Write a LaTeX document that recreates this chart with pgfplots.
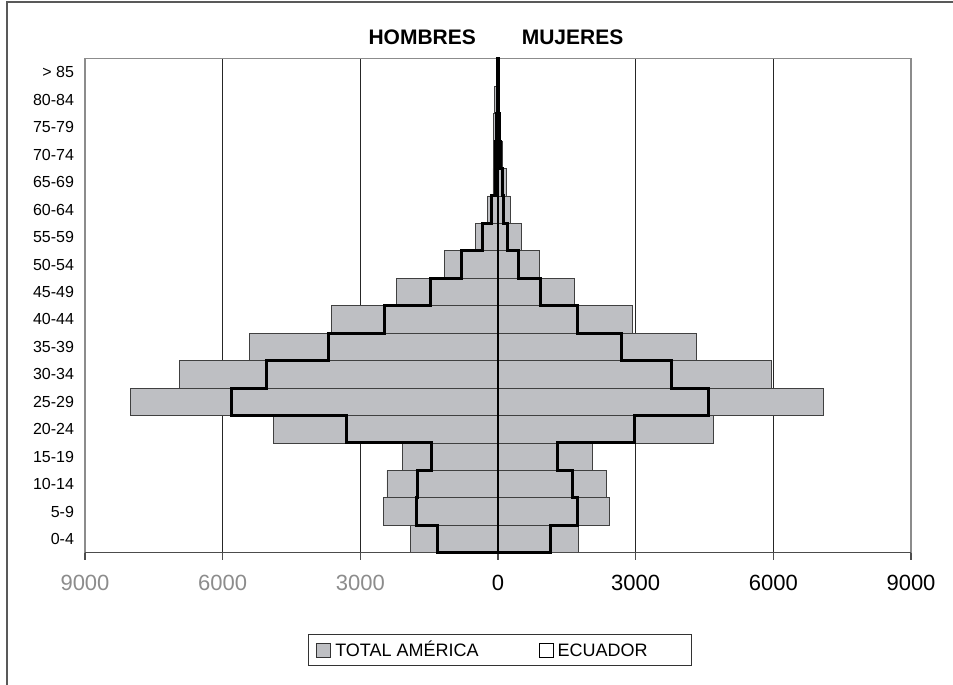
\documentclass[border=0pt]{standalone}
\usepackage{fontspec}
\setmainfont{Liberation Sans}
\usepackage{pgfplots}
\pgfplotsset{compat=1.18}
\usepackage{pgfplotstable}
\definecolor{barfill}{RGB}{190,191,195}
\definecolor{tickgray}{RGB}{140,140,140}
\definecolor{boxgray}{RGB}{140,140,140}

% idx: 0 = 0-4 ... 17 = > 85
\pgfplotstableread{
idx men women
0  -1910 1750
1  -2500 2430
2  -2420 2370
3  -2080 2060
4  -4900 4700
5  -8010 7100
6  -6950 5950
7  -5410 4320
8  -3620 2920
9  -2210 1660
10 -1160 900
11 -500  515
12 -225  265
13 -110  180
14 -100  95
15 -90   50
16 -70   25
17 -40   25
}\totaltable

\begin{document}
\begin{tikzpicture}
\path[use as bounding box] (0,0) rectangle (476.5pt,342.5pt);
\draw[black!65, line width=0.9pt] (3.5pt,0) -- (3.5pt,341.6pt) -- (476.5pt,341.6pt);
\begin{axis}[
  at={(42.5pt,66.15pt)}, anchor=south west,
  scale only axis, width=413pt, height=247pt,
  xmin=-9000, xmax=9000, ymin=-0.5, ymax=17.5,
  clip=false,
  xtick={-9000,-6000,-3000,0,3000,6000,9000},
  xticklabels={\textcolor{tickgray}{9000},\textcolor{tickgray}{6000},\textcolor{tickgray}{3000},0,3000,6000,9000},
  ytick={0,...,17},
  yticklabels={0-4,5-9,10-14,15-19,20-24,25-29,30-34,35-39,40-44,45-49,50-54,55-59,60-64,65-69,70-74,75-79,80-84,> 85},
  xmajorgrids, grid style={black!85, line width=0.4pt},
  axis line style={boxgray, line width=0.75pt},
  xtick pos=left, tick align=outside, major tick length=3.5pt,
  xtick style={black!70, line width=0.6pt},
  ytick style={draw=none},
  xticklabel style={font=\fontsize{11}{13}\selectfont, yshift=-4pt},
  yticklabel style={font=\fontsize{8}{9}\selectfont, xshift=1.5pt},
  title={HOMBRES\hspace{23pt}MUJERES},
  title style={at={(0.4975,1)}, anchor=base, inner sep=0pt, yshift=1pt, font=\bfseries\fontsize{10.5}{12}\selectfont},
  legend columns=2,
  legend style={at={(0.5024,-0.197)}, anchor=center, draw=black!80, line width=0.6pt,
    font=\fontsize{9}{11}\selectfont, inner xsep=4pt, inner ysep=2.5pt,
    nodes={text height=6.6pt, text depth=0pt},
    /tikz/every even column/.append style={column sep=28pt}},
  legend cell align=left,
]
\addplot[xbar, bar width=1, bar shift=0, fill=barfill, draw=black!75, line width=0.4pt,
  legend image code/.code={\draw[black!80, line width=0.5pt, fill=barfill] (0pt,-3.5pt) rectangle (7pt,3.5pt);}]
  table[x=men, y=idx]{\totaltable};
\addlegendentry{TOTAL AMÉRICA}
\addplot[xbar, bar width=1, bar shift=0, fill=barfill, draw=black!75, line width=0.4pt, forget plot]
  table[x=women, y=idx]{\totaltable};
\draw[black, line width=1pt] (axis cs:0,-0.5) -- (axis cs:0,17.5);
\draw[black!70, line width=0.75pt] (axis cs:-9000,-0.5) -- (axis cs:9000,-0.5);
\addplot[black, line width=1.5pt, line join=miter, mark=none,
  legend image code/.code={\draw[black, line width=0.5pt, fill=white] (0pt,-3.5pt) rectangle (7pt,3.5pt);}]
  coordinates {
  (-1310,-0.5) (-1310,0.5) (-1770,0.5) (-1770,1.5) (-1750,1.5) (-1750,2.5)
  (-1450,2.5) (-1450,3.5) (-3310,3.5) (-3310,4.5) (-5800,4.5) (-5800,5.5)
  (-5040,5.5) (-5040,6.5) (-3700,6.5) (-3700,7.5) (-2470,7.5) (-2470,8.5)
  (-1480,8.5) (-1480,9.5) (-800,9.5) (-800,10.5) (-330,10.5) (-330,11.5)
  (-140,11.5) (-140,12.5) (-60,12.5) (-60,13.5) (-50,13.5) (-50,14.5)
  (-40,14.5) (-40,15.5) (-20,15.5) (-20,16.5) (-10,16.5) (-10,17.5)
  (10,17.5) (10,16.5) (20,16.5) (20,15.5) (40,15.5) (40,14.5)
  (60,14.5) (60,13.5) (90,13.5) (90,12.5) (115,12.5) (115,11.5)
  (215,11.5) (215,10.5) (450,10.5) (450,9.5) (920,9.5) (920,8.5)
  (1730,8.5) (1730,7.5) (2690,7.5) (2690,6.5) (3790,6.5) (3790,5.5)
  (4590,5.5) (4590,4.5) (2980,4.5) (2980,3.5) (1290,3.5) (1290,2.5)
  (1620,2.5) (1620,1.5) (1730,1.5) (1730,0.5) (1140,0.5) (1140,-0.5)
  } -- cycle;
\addlegendentry{ECUADOR\hspace*{16pt}}
\end{axis}
\end{tikzpicture}
\end{document}
